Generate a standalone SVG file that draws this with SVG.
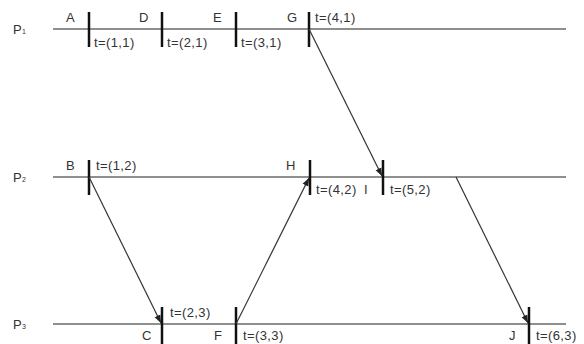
<svg xmlns="http://www.w3.org/2000/svg" width="584" height="344" viewBox="0 0 584 344">
<style>
.tl{stroke:#6a6a6a;stroke-width:1.5;fill:none}
.tk{stroke:#111;stroke-width:2.5}
.ar{stroke:#333;stroke-width:1.2;fill:none;marker-end:url(#ah)}
text{font-family:"Liberation Sans",Arial,sans-serif;font-size:13px;letter-spacing:0.4px;fill:#333}
</style>
<defs>
<marker id="ah" viewBox="0 0 10 10" refX="10" refY="5" markerWidth="8" markerHeight="8" orient="auto" markerUnits="userSpaceOnUse">
<path d="M0,1 L10,5 L0,9 z" fill="#222"/>
</marker>
</defs>
<rect width="584" height="344" fill="#fff"/>
<g id="P1">
<text x="13" y="34">P<tspan font-size="7">1</tspan></text>
<line class="tl" x1="53" y1="29" x2="566" y2="29"/>
</g>
<g id="P2">
<text x="13" y="182">P<tspan font-size="7">2</tspan></text>
<line class="tl" x1="53" y1="177" x2="566" y2="177"/>
</g>
<g id="P3">
<text x="13" y="329">P<tspan font-size="7">3</tspan></text>
<line class="tl" x1="53" y1="324" x2="566" y2="324"/>
</g>
<g id="A"><line class="tk" x1="89" y1="12" x2="89" y2="47"/><text x="66" y="22">A</text><text x="94" y="47">t=(1,1)</text></g>
<g id="D"><line class="tk" x1="162" y1="12" x2="162" y2="47"/><text x="139" y="22">D</text><text x="167" y="47">t=(2,1)</text></g>
<g id="E"><line class="tk" x1="236" y1="12" x2="236" y2="47"/><text x="213" y="22">E</text><text x="241" y="47">t=(3,1)</text></g>
<g id="G"><line class="tk" x1="309" y1="12" x2="309" y2="47"/><text x="287" y="22">G</text><text x="315" y="22">t=(4,1)</text></g>
<g id="B"><line class="tk" x1="89" y1="160" x2="89" y2="195"/><text x="66" y="170">B</text><text x="96" y="170">t=(1,2)</text></g>
<g id="H"><line class="tk" x1="310" y1="160" x2="310" y2="195"/><text x="286" y="170">H</text><text x="316" y="194">t=(4,2)</text></g>
<g id="I"><line class="tk" x1="383" y1="160" x2="383" y2="195"/><text x="364" y="194">I</text><text x="390" y="194">t=(5,2)</text></g>
<g id="C"><line class="tk" x1="162" y1="307" x2="162" y2="344"/><text x="142" y="340">C</text><text x="170" y="317">t=(2,3)</text></g>
<g id="F"><line class="tk" x1="236" y1="307" x2="236" y2="344"/><text x="214" y="340">F</text><text x="243" y="340">t=(3,3)</text></g>
<g id="J"><line class="tk" x1="529" y1="307" x2="529" y2="344"/><text x="509" y="340">J</text><text x="536" y="340">t=(6,3)</text></g>
<g id="connectors">
<line class="ar" x1="309" y1="29" x2="382" y2="176"/>
<line class="ar" x1="89" y1="177" x2="161" y2="323"/>
<line class="ar" x1="236" y1="324" x2="309" y2="178"/>
<line class="ar" x1="456" y1="177" x2="528" y2="323"/>
</g>
</svg>
